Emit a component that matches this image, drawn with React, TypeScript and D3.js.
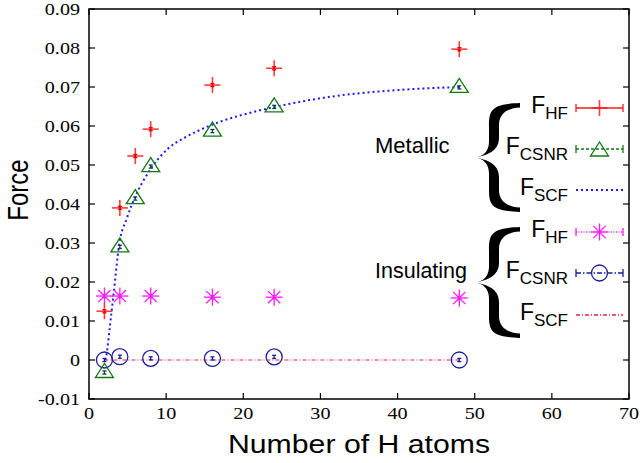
import * as d3 from "d3";

// number of H atoms and forces
const metalN = [2, 4, 6, 8, 16, 24, 48];
const metalHF = [0.0125, 0.039, 0.0523, 0.0592, 0.0705, 0.0748, 0.0797];
const metalCSNR = [-0.0032, 0.029, 0.0414, 0.0496, 0.0587, 0.0649, 0.0699];
const metalErr = [0.0004, 0.0004, 0.0004, 0.0004, 0.0004, 0.0004, 0.0004];

const scfCurveN = [2.1, 2.3, 2.7, 3.2, 3.9, 4.9, 6.0, 7.9, 10.3, 12.2, 14.4, 17.0, 19.4, 23.9, 31.3, 39.9, 48];
const scfCurveF = [0.0, 0.0017, 0.0085, 0.0171, 0.0295, 0.0363, 0.0419, 0.0487, 0.0543, 0.0568, 0.059, 0.0611, 0.0626, 0.0648, 0.0675, 0.0692, 0.07];

const insulN = [2, 4, 8, 16, 24, 48];
const insulHF = [0.0164, 0.0164, 0.0164, 0.0161, 0.0161, 0.0159];
const insulCSNR = [0.0, 0.00085, 0.00043, 0.0004, 0.0008, 0.0];
const insulErr = [0.0004, 0.0004, 0.0004, 0.0004, 0.0004, 0.0004];
const insulSCFN = [2, 48];
const insulSCF = [0, 0];

const xTicks = [0, 10, 20, 30, 40, 50, 60, 70];
const yTicks = [-0.01, 0, 0.01, 0.02, 0.03, 0.04, 0.05, 0.06, 0.07, 0.08, 0.09];

const RED = "#ff1a1a";
const GREEN = "#137a13";
const BLUE = "#1a1aff";
const MAGENTA = "#ff1aff";
const NAVY = "#1c1c9c";
const CRIMSON = "#e2244c";

const W = 643;
const H = 463;
const serif = "Liberation Serif, Times New Roman, DejaVu Serif, serif";
const sans = "Liberation Sans, Arial, Helvetica, sans-serif";

function Plus({ x, y }) {
  return (
    <g stroke={RED} strokeWidth={1.6} strokeOpacity={0.85}>
      <line x1={x - 8} x2={x + 8} y1={y} y2={y} />
      <line x1={x} x2={x} y1={y - 8} y2={y + 8} />
    </g>
  );
}

function Triangle({ x, y }) {
  return (
    <path
      d={`M${x},${y - 9}L${x - 9},${y + 5}L${x + 9},${y + 5}Z`}
      fill="none"
      stroke={GREEN}
      strokeWidth={1.3}
    />
  );
}

function Star({ x, y }) {
  const r = 8.5;
  const d = r * 0.72;
  return (
    <g stroke={MAGENTA} strokeWidth={1.3}>
      <line x1={x - r} x2={x + r} y1={y} y2={y} />
      <line x1={x} x2={x} y1={y - r} y2={y + r} />
      <line x1={x - d} x2={x + d} y1={y - d} y2={y + d} />
      <line x1={x - d} x2={x + d} y1={y + d} y2={y - d} />
    </g>
  );
}

function Circle({ x, y }) {
  return <circle cx={x} cy={y} r={8} fill="none" stroke={NAVY} strokeWidth={1.3} />;
}

function ErrBar({ x, y0, y1, color, w = 2 }) {
  return (
    <g stroke={color} strokeWidth={1.3}>
      <line x1={x} x2={x} y1={y0} y2={y1} />
      <line x1={x - w} x2={x + w} y1={y0} y2={y0} />
      <line x1={x - w} x2={x + w} y1={y1} y2={y1} />
    </g>
  );
}

// curly brace with its tip to the left
function bracePath(y0, y1, xt, xe) {
  const ym = (y0 + y1) / 2;
  const xs = xt + 19;
  const w = 5;
  const half = (s) => {
    const ya = s < 0 ? y0 : y1;
    return (
      `M${xe},${ya}` +
      `C${xs - 4},${ya - s * 1} ${xs - w},${ya - s * 8} ${xs - w},${ya - s * 24}` +
      `L${xs - w},${ym + s * 16}` +
      `C${xs - w},${ym + s * 6} ${xt + 8},${ym + s * 1} ${xt},${ym}` +
      `C${xs - 2},${ym + s * 3} ${xs + w},${ym + s * 9} ${xs + w},${ym + s * 20}` +
      `L${xs + w},${ya - s * 22}` +
      `C${xs + w},${ya - s * 12} ${xs + 12},${ya - s * 5} ${xe},${ya - s * 4.5}Z`
    );
  };
  return half(-1) + half(1);
}

function LegendRow({ y, sub, color, dash, width = 1.3, caps = true, marker }) {
  const x0 = 576;
  const x1 = 623;
  const xm = (x0 + x1) / 2;
  return (
    <g>
      <text x={568} y={y + 5} textAnchor="end" fontFamily={sans} fontSize={23} fill="#000">
        F
        <tspan dy={6} fontSize={17}>
          {sub}
        </tspan>
      </text>
      <line x1={x0} x2={x1} y1={y} y2={y} stroke={color} strokeWidth={width} strokeDasharray={dash} />
      {caps && (
        <g stroke={color} strokeWidth={1.3}>
          <line x1={x0} x2={x0} y1={y - 4} y2={y + 4} />
          <line x1={x1} x2={x1} y1={y - 4} y2={y + 4} />
        </g>
      )}
      {marker && marker(xm, y)}
    </g>
  );
}

export default function App() {
  const x = d3.scaleLinear().domain([0, 70]).range([89, 629]);
  const y = d3.scaleLinear().domain([-0.01, 0.09]).range([399, 9]);

  const scfLine = d3
    .line<number>()
    .x((_, i) => x(scfCurveN[i]))
    .y((d) => y(d))
    .curve(d3.curveMonotoneX)(scfCurveF);
  const insulLine = d3
    .line<number>()
    .x((_, i) => x(insulSCFN[i]))
    .y((d) => y(d))(insulSCF);

  return (
    <div style={{ position: "absolute", left: 0, top: 0 }}>
      <svg width={W} height={H} style={{ display: "block", background: "#fff" }}>
        {/* curves */}
        <path d={insulLine} fill="none" stroke={CRIMSON} strokeWidth={1.2} strokeDasharray="4,2,1,2" />
        <path d={scfLine} fill="none" stroke={BLUE} strokeWidth={2} strokeDasharray="2,3" />

        {/* insulating */}
        {insulN.map((n, i) => (
          <g key={"ih" + i}>
            <Star x={x(n)} y={y(insulHF[i])} />
            <ErrBar x={x(n)} y0={y(insulHF[i] - insulErr[i])} y1={y(insulHF[i] + insulErr[i])} color={MAGENTA} />
          </g>
        ))}
        {insulN.map((n, i) => (
          <g key={"ic" + i}>
            <Circle x={x(n)} y={y(insulCSNR[i])} />
            <ErrBar x={x(n)} y0={y(insulCSNR[i] - insulErr[i])} y1={y(insulCSNR[i] + insulErr[i])} color={NAVY} />
          </g>
        ))}

        {/* metallic */}
        {metalN.map((n, i) => (
          <g key={"mc" + i}>
            <Triangle x={x(n)} y={y(metalCSNR[i])} />
            <ErrBar x={x(n)} y0={y(metalCSNR[i] - metalErr[i])} y1={y(metalCSNR[i] + metalErr[i])} color="#103a50" />
          </g>
        ))}
        {metalN.map((n, i) => (
          <g key={"mh" + i}>
            <Plus x={x(n)} y={y(metalHF[i])} />
            <ErrBar x={x(n)} y0={y(metalHF[i] - metalErr[i])} y1={y(metalHF[i] + metalErr[i])} color="#e00000" />
          </g>
        ))}

        {/* frame and ticks */}
        <rect x={89} y={9} width={540} height={390} fill="none" stroke="#000" strokeWidth={1.5} />
        {xTicks.map((t) => (
          <g key={"xt" + t}>
            <line x1={x(t)} x2={x(t)} y1={399} y2={393} stroke="#000" strokeWidth={1.2} />
            <line x1={x(t)} x2={x(t)} y1={9} y2={15} stroke="#000" strokeWidth={1.2} />
            <text
              transform={`translate(${x(t)},419) scale(1.15,1)`}
              textAnchor="middle"
              fontFamily={serif}
              fontSize={17.5}
              fill="#000"
            >
              {t}
            </text>
          </g>
        ))}
        {yTicks.map((t) => (
          <g key={"yt" + t}>
            <line x1={89} x2={95} y1={y(t)} y2={y(t)} stroke="#000" strokeWidth={1.2} />
            <line x1={629} x2={623} y1={y(t)} y2={y(t)} stroke="#000" strokeWidth={1.2} />
            <text
              transform={`translate(80,${y(t)}) scale(1.15,1)`}
              dy="0.35em"
              textAnchor="end"
              fontFamily={serif}
              fontSize={17.5}
              fill="#000"
            >
              {d3.format(".2f")(t).replace("0.00", "0").replace("−", "-")}
            </text>
          </g>
        ))}

        {/* axis titles */}
        <text
          transform="translate(359,453) scale(1.21,1)"
          textAnchor="middle"
          fontFamily={sans}
          fontSize={25}
          fill="#000"
        >
          Number of H atoms
        </text>
        <text
          transform="translate(28,190) scale(1.2,1) rotate(-90)"
          textAnchor="middle"
          fontFamily={sans}
          fontSize={24}
          fill="#000"
        >
          Force
        </text>

        {/* legend */}
        <text x={375} y={153} fontFamily={sans} fontSize={22} fill="#000">
          Metallic
        </text>
        <text x={375} y={278} fontFamily={sans} fontSize={21.5} fill="#000">
          Insulating
        </text>
        <path d={bracePath(103, 212, 475, 520)} fill="#000" />
        <path d={bracePath(227, 338, 475, 520)} fill="#000" />

        <LegendRow y={108} sub="HF" color={RED} marker={(a, b) => <Plus x={a} y={b} />} />
        <LegendRow y={149} sub="CSNR" color={GREEN} dash="3,2" marker={(a, b) => <Triangle x={a} y={b + 2} />} />
        <LegendRow y={190} sub="SCF" color={BLUE} dash="2,3" width={2} caps={false} />
        <LegendRow y={232} sub="HF" color={MAGENTA} dash="1,1.5" marker={(a, b) => <Star x={a} y={b} />} />
        <LegendRow y={273} sub="CSNR" color={NAVY} dash="5,2,1.5,2" marker={(a, b) => <Circle x={a} y={b} />} />
        <LegendRow y={315} sub="SCF" color={CRIMSON} dash="4,2,1,2" caps={false} />
      </svg>
    </div>
  );
}
